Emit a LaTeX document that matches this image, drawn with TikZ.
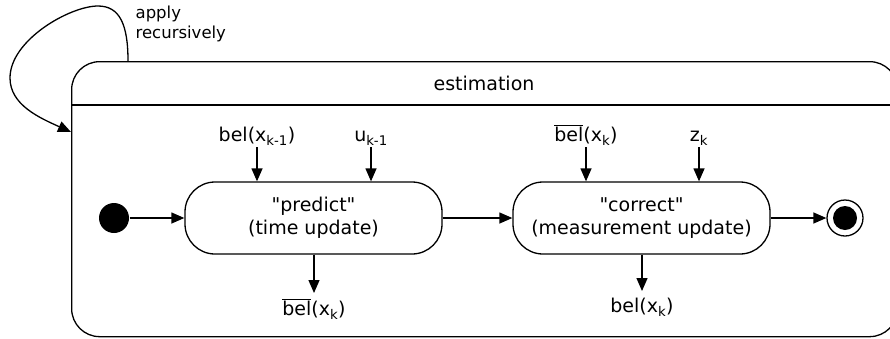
\documentclass[tikz,border=0pt]{standalone}
\usepackage{fontspec}
\setmainfont{DejaVu Sans}[Ligatures=TeXOff]
\usetikzlibrary{arrows.meta}
\newcommand\diafont{\fontsize{19}{23}\selectfont}
\newcommand\notefont{\fontsize{16.5}{20}\selectfont}
\begin{document}
\begin{tikzpicture}[x=1pt,y=-1pt,
  line width=1.3pt,
  arr/.style={-{Triangle[length=13pt,width=11pt]}},
  statebox/.style={draw, rounded corners=30pt, minimum width=257pt,
    minimum height=72pt, align=center, font=\diafont, inner sep=0pt},
  lbl/.style={anchor=base, inner sep=0pt, font=\diafont},
]
\useasboundingbox (0,0) rectangle (890,338);

% composite state "estimation"
\node[draw, rounded corners=28pt, minimum width=826pt, minimum height=275pt,
  inner sep=0pt, anchor=north west] (est) at (71,61) {};
\draw (est.west |- 0,105) -- (est.east |- 0,105);
\node[font=\diafont, inner sep=0pt] (title) at (484,83) {estimation};

% recursion loop
\coordinate (loopstart) at (128,61);
\coordinate (loopend) at (71,132);
\draw[arr] (loopstart) .. controls (128,25) and (120,6) .. (98,6)
  .. controls (70,6) and (10,40) .. (10,78)
  .. controls (10,105) and (40,118) .. (loopend);
\node[font=\notefont, align=left, anchor=base west, inner sep=0pt] (note)
  at (135,38) {apply\\recursively};

% states
\node[circle, fill, inner sep=0pt, minimum size=30pt] (init) at (114,218) {};
\node[statebox] (pred) at (313.5,218) {"predict"\\(time update)};
\node[statebox] (corr) at (641.5,218) {"correct"\\(measurement update)};
\node[circle, draw, inner sep=0pt, minimum size=36pt] (final) at (845,218) {};
\node[circle, fill, inner sep=0pt, minimum size=24pt] (finaldot) at (final) {};

\draw[arr] (init) -- (pred);
\draw[arr] (pred) -- (corr);
\draw[arr] (corr) -- (final);

% inputs and outputs
\node[lbl] (belprev) at (257,141) {bel(x\textsubscript{k-1})};
\node[lbl] (uprev) at (371,141) {u\textsubscript{k-1}};
\node[lbl] (belbarin) at (586,141) {$\overline{\mbox{bel}}$(x\textsubscript{k})};
\node[lbl] (zk) at (699,141) {z\textsubscript{k}};
\node[lbl] (belbarout) at (314,315) {$\overline{\mbox{bel}}$(x\textsubscript{k})};
\node[lbl] (belout) at (642,312) {bel(x\textsubscript{k})};

\draw[arr] ([yshift=-6pt]belprev.base) -- (belprev.base |- pred.north);
\draw[arr] ([yshift=-6pt]uprev.base) -- (uprev.base |- pred.north);
\draw[arr] ([yshift=-6pt]belbarin.base) -- (belbarin.base |- corr.north);
\draw[arr] ([yshift=-6pt]zk.base) -- (zk.base |- corr.north);
\draw[arr] (pred.south -| belbarout.base) -- ([yshift=22pt]belbarout.base);
\draw[arr] (corr.south -| belout.base) -- ([yshift=21pt]belout.base);
\end{tikzpicture}
\end{document}
